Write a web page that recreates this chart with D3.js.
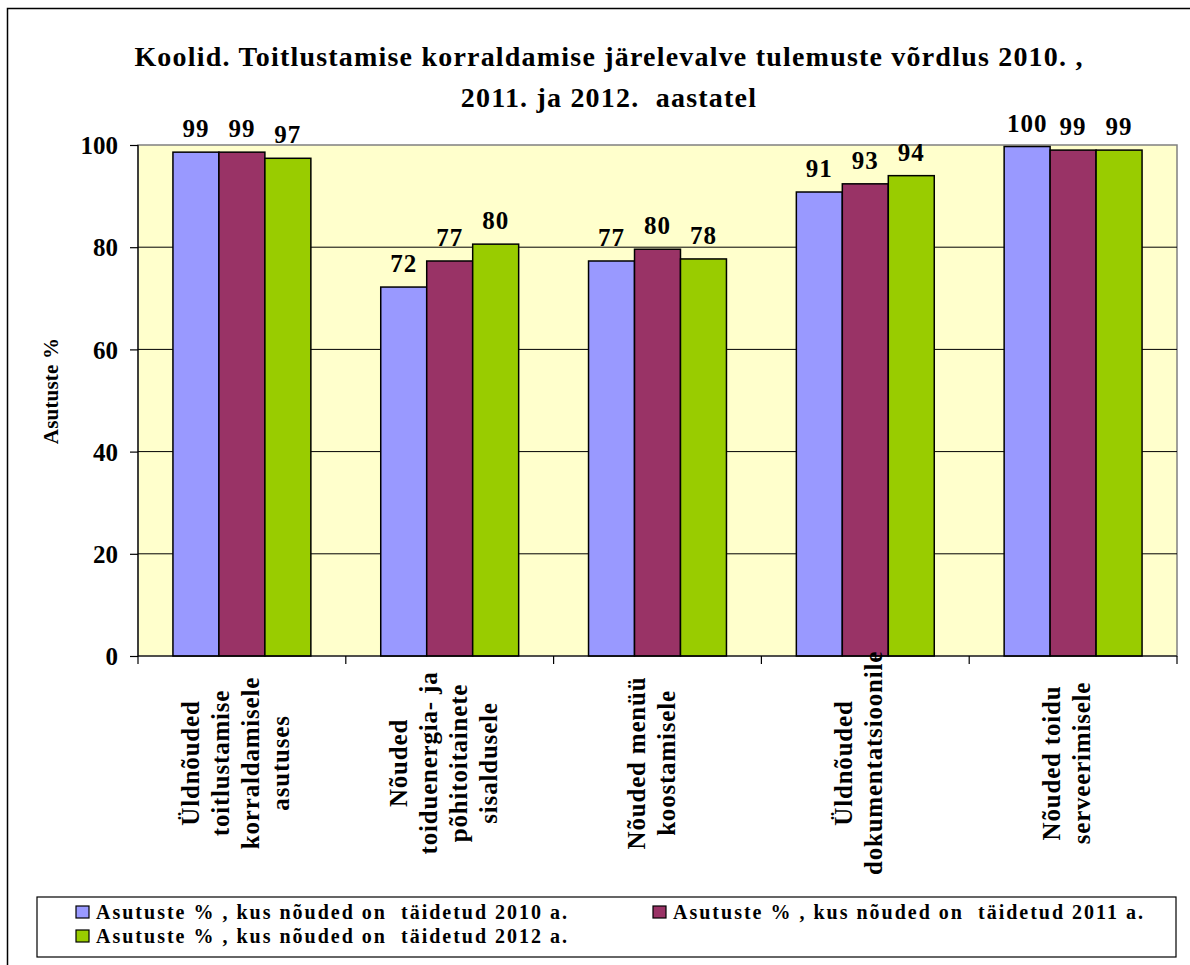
<!DOCTYPE html>
<html>
<head>
<meta charset="utf-8">
<script src="https://cdn.jsdelivr.net/npm/d3@7"></script>
<style>
  body { margin: 0; background: #fff; }
  text { font-family: "Liberation Serif", "Times New Roman", serif; font-weight: bold; fill: #000; white-space: pre; }
</style>
</head>
<body>
<svg id="chart"></svg>
<script>
// Data
const categories = [
    ["Üldnõuded", "toitlustamise", "korraldamisele", "asutuses"],
    ["Nõuded", "toiduenergia- ja", "põhitoitainete", "sisaldusele"],
    ["Nõuded menüü", "koostamisele"],
    ["Üldnõuded", "dokumentatsioonile"],
    ["Nõuded toidu", "serveerimisele"]
];
const seriesNames = [
    "Asutuste % , kus nõuded on  täidetud 2010 a.",
    "Asutuste % , kus nõuded on  täidetud 2011 a.",
    "Asutuste % , kus nõuded on  täidetud 2012 a."
];
const values2010 = [98.6, 72.2, 77.3, 90.8, 99.7];
const values2011 = [98.6, 77.3, 79.6, 92.4, 99.0];
const values2012 = [97.4, 80.6, 77.7, 94.0, 99.0];
const labels2010 = ["99", "72", "77", "91", "100"];
const labels2011 = ["99", "77", "80", "93", "99"];
const labels2012 = ["97", "80", "78", "94", "99"];
const yTicks = [0, 20, 40, 60, 80, 100];
const colors = ["#9999FF", "#993366", "#99CC00"];
const titleLines = ["Koolid. Toitlustamise korraldamise järelevalve tulemuste võrdlus 2010. ,", "2011. ja 2012.  aastatel"];
const yTitle = "Asutuste %";

// Constants
const width = 1190;
const height = 965;
const plot = { left: 138, right: 1177, top: 145, bottom: 656 };

const svg = d3.select("#chart").attr("width", width).attr("height", height);

// outer frame
svg.append("rect")
    .attr("x", 7.5).attr("y", 8.5)
    .attr("width", width + 20).attr("height", height + 20)
    .attr("fill", "#fff").attr("stroke", "#000").attr("stroke-width", 1.5);

// build rows from the arrays
const series = [
    { name: seriesNames[0], values: values2010, labels: labels2010 },
    { name: seriesNames[1], values: values2011, labels: labels2011 },
    { name: seriesNames[2], values: values2012, labels: labels2012 }
];
const catIndex = d3.range(categories.length);

const x0 = d3.scaleBand().domain(catIndex).range([plot.left, plot.right]);
const x1 = d3.scaleBand().domain(d3.range(series.length))
    .range([0, x0.bandwidth()]).paddingOuter(0.76).paddingInner(0);
const y = d3.scaleLinear().domain([0, 100]).range([plot.bottom, plot.top]);

// plot background
svg.append("rect")
    .attr("x", plot.left).attr("y", plot.top)
    .attr("width", plot.right - plot.left).attr("height", plot.bottom - plot.top)
    .attr("fill", "#FFFFCC").attr("stroke", "#808080").attr("stroke-width", 1.5);

// grid lines
svg.append("g").selectAll("line")
    .data(yTicks.filter(t => t > 0 && t < 100))
    .join("line")
    .attr("x1", plot.left).attr("x2", plot.right)
    .attr("y1", d => y(d)).attr("y2", d => y(d))
    .attr("stroke", "#000").attr("stroke-width", 1);

// bars
const groups = svg.append("g").selectAll("g")
    .data(series)
    .join("g")
    .attr("fill", (d, i) => colors[i]);

groups.selectAll("rect")
    .data((s, si) => s.values.map((v, ci) => ({ si, ci, v })))
    .join("rect")
    .attr("x", d => x0(d.ci) + x1(d.si))
    .attr("y", d => y(d.v))
    .attr("width", x1.bandwidth())
    .attr("height", d => y(0) - y(d.v))
    .attr("stroke", "#000").attr("stroke-width", 1.5);

// value labels
groups.selectAll("text")
    .data((s, si) => s.values.map((v, ci) => ({ si, ci, v, label: s.labels[ci] })))
    .join("text")
    .attr("x", d => x0(d.ci) + x1(d.si) + x1.bandwidth() / 2)
    .attr("y", d => y(d.v) - 15)
    .attr("text-anchor", "middle")
    .style("font-size", "25px")
    .style("letter-spacing", "1px")
    .text(d => d.label);

// y axis
const yAxis = svg.append("g")
    .attr("transform", `translate(${plot.left},0)`)
    .call(d3.axisLeft(y).tickValues(yTicks).tickSize(8).tickPadding(12));
yAxis.selectAll("text").style("font-size", "25px").attr("dy", "0.35em");
yAxis.selectAll("line, path").attr("stroke", "#000").attr("stroke-width", 1.2);
yAxis.select(".domain").attr("d", `M0,${plot.top}V${plot.bottom}`);

// x axis with category boundaries as ticks
const xAxis = svg.append("g").attr("transform", `translate(0,${plot.bottom})`);
xAxis.append("line")
    .attr("x1", plot.left).attr("x2", plot.right)
    .attr("stroke", "#000").attr("stroke-width", 1.2);
xAxis.selectAll(".tick")
    .data(catIndex.concat([categories.length]))
    .join("line")
    .attr("x1", d => d < categories.length ? x0(d) : plot.right)
    .attr("x2", d => d < categories.length ? x0(d) : plot.right)
    .attr("y1", 0).attr("y2", 8)
    .attr("stroke", "#000").attr("stroke-width", 1.2);

// rotated category labels
const lineGap = 30;
const labelMid = 763;
svg.append("g").selectAll("g")
    .data(categories)
    .join("g")
    .each(function (lines, ci) {
        const cx = x0(ci) + x0.bandwidth() / 2;
        d3.select(this).selectAll("text")
            .data(lines)
            .join("text")
            .attr("transform", (l, li) => {
                const xx = cx + (li - (lines.length - 1) / 2) * lineGap + 2;
                return `translate(${xx},${labelMid}) rotate(-90)`;
            })
            .attr("text-anchor", "middle")
            .style("font-size", "25px")
            .style("letter-spacing", "0.8px")
            .text(l => l);
    });

// y title
svg.append("text")
    .attr("transform", "translate(58,391) rotate(-90)")
    .attr("text-anchor", "middle")
    .style("font-size", "21px")
    .style("letter-spacing", "0.2px")
    .text(yTitle);

// chart title
svg.append("g").selectAll("text")
    .data(titleLines)
    .join("text")
    .attr("x", 609)
    .attr("y", (d, i) => 66 + i * 41)
    .attr("text-anchor", "middle")
    .style("font-size", "28px")
    .style("letter-spacing", "1.2px")
    .text(d => d);

// legend
const legend = svg.append("g");
legend.append("rect")
    .attr("x", 37).attr("y", 897)
    .attr("width", 1139).attr("height", 60)
    .attr("fill", "#fff").attr("stroke", "#000").attr("stroke-width", 1.2);

const legendPos = [[76, 906], [653, 906], [76, 930]];
const items = legend.selectAll("g.item")
    .data(series)
    .join("g")
    .attr("class", "item")
    .attr("transform", (d, i) => `translate(${legendPos[i][0]},${legendPos[i][1]})`);
items.append("rect")
    .attr("width", 13).attr("height", 12)
    .attr("fill", (d, i) => colors[i])
    .attr("stroke", "#000").attr("stroke-width", 1.2);
items.append("text")
    .attr("x", 20).attr("y", 13)
    .style("font-size", "20px")
    .style("letter-spacing", "2px")
    .text(d => d.name);
</script>
</body>
</html>
